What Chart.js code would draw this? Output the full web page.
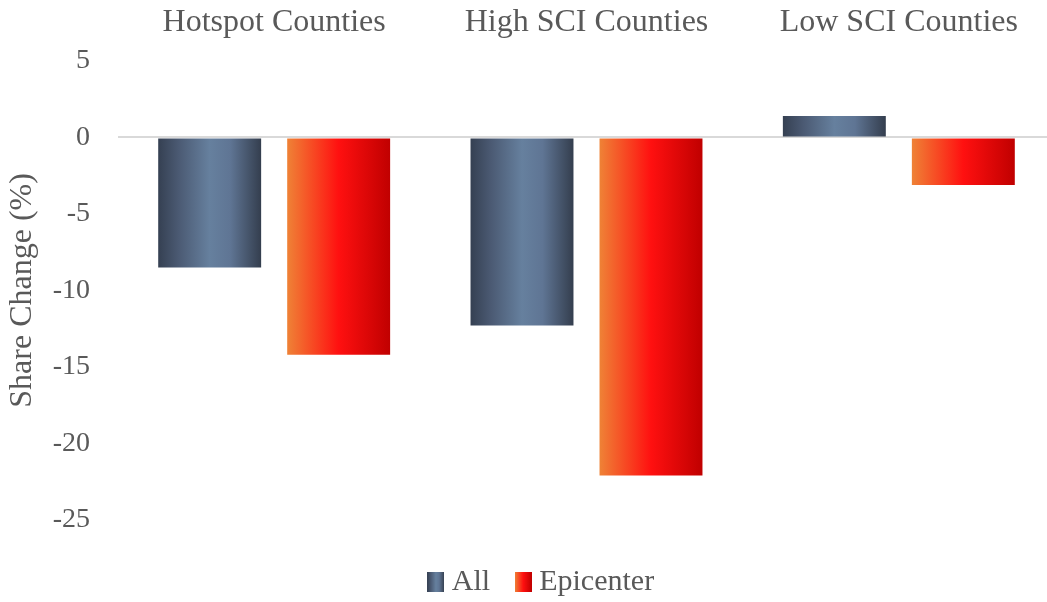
<!DOCTYPE html>
<html>
<head>
<meta charset="utf-8">
<script src="https://cdn.jsdelivr.net/npm/chart.js@4.4.0/dist/chart.umd.min.js"></script>
<style>
  html, body { margin: 0; padding: 0; background: #fff; overflow: hidden; }
  canvas { display: block; }
</style>
</head>
<body>
<!-- canvas runs a few px past the window so the plot reaches the right edge like the original -->
<canvas id="shareChart" width="1055" height="602"></canvas>
<script>
// Data
const categories = ['Hotspot Counties', 'High SCI Counties', 'Low SCI Counties'];
const allValues = [-8.5, -12.3, 1.4];
const epicenterValues = [-14.2, -22.1, -3.1];
const yTicks = [5, 0, -5, -10, -15, -20, -25];

const FONT = "'Liberation Serif', 'Times New Roman', serif";
const TEXT = '#595959';

// horizontal gradient stops for each series
const allStops = [[0, '#354052'], [0.2, '#4b5a73'], [0.5, '#66809e'], [0.7, '#5f7594'], [1, '#343e4e']];
const epiStops = [[0, '#ef8236'], [0.5, '#ff1010'], [1, '#c00000']];

const CAT_PCT = 0.826;
const BAR_PCT = 0.798;

function makeGradient(ctx, x0, x1, stops) {
    const g = ctx.createLinearGradient(x0, 0, x1, 0);
    stops.forEach(s => g.addColorStop(s[0], s[1]));
    return g;
}

// gradient across each bar, computed from the category scale
function barFill(stops) {
    return function(context) {
        const chart = context.chart;
        if (!chart.chartArea || context.dataIndex === undefined) return stops[1][1];
        const x = chart.scales.x;
        const catWidth = x.width / categories.length;
        const slot = catWidth * CAT_PCT / 2;
        const center = x.getPixelForValue(context.dataIndex) + (context.datasetIndex === 0 ? -slot / 2 : slot / 2);
        const w = slot * BAR_PCT;
        return makeGradient(chart.ctx, center - w / 2, center + w / 2, stops);
    };
}

// small canvas used as legend swatch
function swatch(stops) {
    const c = document.createElement('canvas');
    c.width = 17;
    c.height = 20;
    const cx = c.getContext('2d');
    cx.fillStyle = makeGradient(cx, 0, 17, stops);
    cx.fillRect(0, 0, 17, 20);
    return c;
}

const swatches = [swatch(allStops), swatch(epiStops)];

// nudge the legend row to where the original sits
const legendShift = {
    id: 'legendShift',
    afterLayout(chart) {
        if (!chart.legend) return;
        chart.legend.left += 17;
        chart.legend.right += 17;
    }
};

new Chart(document.getElementById('shareChart'), {
    type: 'bar',
    data: {
        labels: categories,
        datasets: [{
            label: 'All',
            data: allValues,
            backgroundColor: barFill(allStops),
            categoryPercentage: CAT_PCT,
            barPercentage: BAR_PCT
        }, {
            label: 'Epicenter',
            data: epicenterValues,
            backgroundColor: barFill(epiStops),
            categoryPercentage: CAT_PCT,
            barPercentage: BAR_PCT
        }]
    },
    plugins: [legendShift],
    options: {
        responsive: false,
        animation: false,
        layout: { padding: { top: 0, left: 0, right: 0, bottom: -5 } },
        plugins: {
            tooltip: { enabled: false },
            legend: {
                position: 'bottom',
                title: { display: true, text: ' ', font: { size: 1 }, padding: { top: 0, bottom: 14 } },
                labels: {
                    usePointStyle: true,
                    pointStyleWidth: 2,
                    padding: 32,
                    color: TEXT,
                    font: { family: FONT, size: 30 },
                    generateLabels: chart => chart.data.datasets.map((ds, i) => ({
                        text: ds.label,
                        pointStyle: swatches[i],
                        fontColor: TEXT,
                        lineWidth: 0,
                        datasetIndex: i
                    }))
                }
            }
        },
        scales: {
            x: {
                position: 'top',
                grid: { display: false },
                border: { display: false },
                ticks: { color: TEXT, font: { family: FONT, size: 32 }, padding: 11, maxRotation: 0 },
                afterFit: scale => { scale.height = 61; }
            },
            y: {
                min: -25,
                max: 5,
                afterBuildTicks: scale => { scale.ticks = yTicks.map(v => ({ value: v })); },
                border: { display: false },
                grid: {
                    drawTicks: false,
                    lineWidth: 2,
                    color: ctx => (ctx.tick && ctx.tick.value === 0 ? '#d9d9d9' : 'rgba(0,0,0,0)')
                },
                ticks: { color: TEXT, font: { family: FONT, size: 28 }, padding: 28 },
                title: {
                    display: true,
                    text: 'Share Change (%)',
                    color: TEXT,
                    font: { family: FONT, size: 32 },
                    padding: { top: 3, bottom: 0 }
                },
                afterFit: scale => { scale.width = 118; }
            }
        }
    }
});
</script>
</body>
</html>
